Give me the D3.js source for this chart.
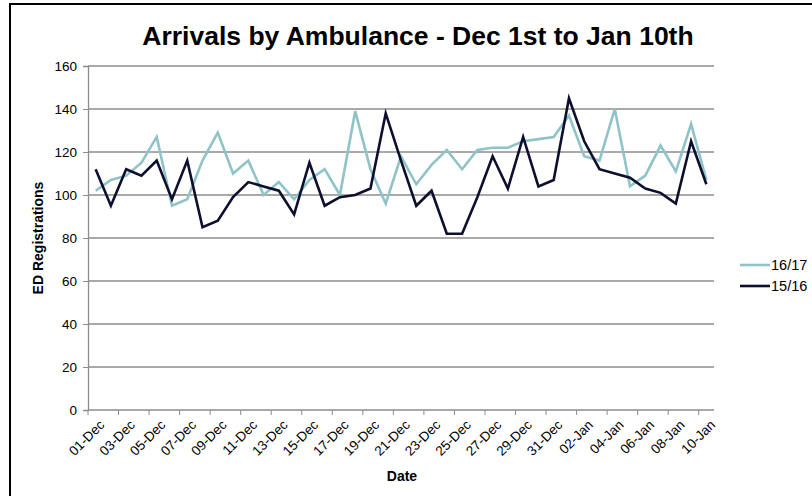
<!DOCTYPE html>
<html>
<head>
<meta charset="utf-8">
<script src="https://cdn.jsdelivr.net/npm/d3@7"></script>
<style>
  body { margin: 0; background: #fff; }
  text { font-family: "Liberation Sans", Arial, sans-serif; }
</style>
</head>
<body>
<svg id="chart" width="812" height="496"></svg>
<script>
// days Dec 1 .. Jan 10
const dates = [
    "01-Dec", "02-Dec", "03-Dec", "04-Dec", "05-Dec", "06-Dec", "07-Dec", "08-Dec", "09-Dec", "10-Dec",
    "11-Dec", "12-Dec", "13-Dec", "14-Dec", "15-Dec", "16-Dec", "17-Dec", "18-Dec", "19-Dec", "20-Dec",
    "21-Dec", "22-Dec", "23-Dec", "24-Dec", "25-Dec", "26-Dec", "27-Dec", "28-Dec", "29-Dec", "30-Dec",
    "31-Dec", "01-Jan", "02-Jan", "03-Jan", "04-Jan", "05-Jan", "06-Jan", "07-Jan", "08-Jan", "09-Jan",
    "10-Jan"
]
const series1617 = [
    102, 107, 109, 115, 127, 95, 98, 116, 129, 110,
    116, 100, 106, 98, 107, 112, 100, 139, 112, 96,
    118, 105, 114, 121, 112, 121, 122, 122, 125, 126,
    127, 137, 118, 116, 140, 104, 109, 123, 111, 133,
    107
]
const series1516 = [
    112, 95, 112, 109, 116, 98, 116, 85, 88, 99,
    106, 104, 102, 91, 115, 95, 99, 100, 103, 138,
    116, 95, 102, 82, 82, 99, 118, 103, 127, 104,
    107, 145, 125, 112, 110, 108, 103, 101, 96, 125,
    105
]
const yTicks = [0, 20, 40, 60, 80, 100, 120, 140, 160]
const seriesNames = ["16/17", "15/16"]
const seriesColors = ["#8fc3c7", "#0d0f2e"]

const svg = d3.select("#chart")
const margins = { left: 88, right: 98, top: 66, bottom: 86 }
const svgWidth = 812
const svgHeight = 496
const plotWidth = svgWidth - margins.left - margins.right
const plotHeight = svgHeight - margins.top - margins.bottom

// outer frame
svg.append("rect")
    .attr("x", 10)
    .attr("y", 4)
    .attr("width", 806)
    .attr("height", 496)
    .attr("fill", "none")
    .attr("stroke", "#000")
    .attr("stroke-width", 2)

const xScale = d3.scaleBand()
    .domain(dates)
    .range([0, plotWidth])
const yScale = d3.scaleLinear()
    .domain([0, 160])
    .range([plotHeight, 0])

const plot = svg.append("g")
    .attr("transform", `translate(${margins.left},${margins.top})`)

// gridlines
plot.selectAll(".grid")
    .data(yTicks.filter(d => d > 0))
    .enter()
    .append("line")
    .attr("x1", 0)
    .attr("x2", plotWidth)
    .attr("y1", d => yScale(d))
    .attr("y2", d => yScale(d))
    .attr("stroke", "#8c8c8c")
    .attr("stroke-width", 1.3)

// y axis
const yAxis = plot.append("g")
    .call(d3.axisLeft(yScale).tickValues(yTicks).tickSize(5).tickPadding(6))
yAxis.select(".domain").attr("stroke", "#8c8c8c").attr("stroke-width", 1.3)
yAxis.selectAll(".tick line").attr("stroke", "#8c8c8c")
yAxis.selectAll("text").attr("font-size", 13.5).attr("fill", "#000")

// x axis: ticks on every 2nd category boundary
const xAxisG = plot.append("g")
    .attr("transform", `translate(0,${plotHeight})`)
xAxisG.append("line")
    .attr("x1", 0)
    .attr("x2", plotWidth)
    .attr("stroke", "#8c8c8c")
    .attr("stroke-width", 1.3)
const labelDates = dates.filter((d, i) => i % 2 === 0)
xAxisG.selectAll(".xtick")
    .data(labelDates)
    .enter()
    .append("line")
    .attr("x1", d => xScale(d))
    .attr("x2", d => xScale(d))
    .attr("y1", 0)
    .attr("y2", 5)
    .attr("stroke", "#8c8c8c")
xAxisG.selectAll(".xlabel")
    .data(labelDates)
    .enter()
    .append("text")
    .text(d => d)
    .attr("transform", d => `translate(${xScale(d) + xScale.bandwidth() / 2 + 3},9) rotate(-45)`)
    .attr("text-anchor", "end")
    .attr("dy", "0.7em")
    .attr("font-size", 13.5)

// lines
const line = d3.line()
    .x((d, i) => xScale(dates[i]) + xScale.bandwidth() / 2)
    .y(d => yScale(d))

const allSeries = [series1617, series1516]
allSeries.forEach((data, index) => {
    plot.append("path")
        .datum(data)
        .attr("d", line)
        .attr("fill", "none")
        .attr("stroke", seriesColors[index])
        .attr("stroke-width", 2.6)
        .attr("stroke-linejoin", "miter")
})

// titles
svg.append("text")
    .text("Arrivals by Ambulance - Dec 1st to Jan 10th")
    .attr("x", 418)
    .attr("y", 45)
    .attr("text-anchor", "middle")
    .attr("font-size", 26.5)
    .attr("font-weight", "bold")

svg.append("text")
    .text("ED Registrations")
    .attr("transform", `translate(43,${margins.top + plotHeight / 2}) rotate(-90)`)
    .attr("text-anchor", "middle")
    .attr("font-size", 14)
    .attr("font-weight", "bold")

svg.append("text")
    .text("Date")
    .attr("x", 402)
    .attr("y", 481)
    .attr("text-anchor", "middle")
    .attr("font-size", 14)
    .attr("font-weight", "bold")

// legend
const legend = svg.append("g")
    .attr("transform", "translate(740,265)")
seriesNames.forEach((name, i) => {
    legend.append("line")
        .attr("x1", 0)
        .attr("x2", 30)
        .attr("y1", i * 21)
        .attr("y2", i * 21)
        .attr("stroke", seriesColors[i])
        .attr("stroke-width", 2.6)
    legend.append("text")
        .text(name)
        .attr("x", 31)
        .attr("y", i * 21)
        .attr("dy", "0.35em")
        .attr("font-size", 14.5)
})
</script>
</body>
</html>
